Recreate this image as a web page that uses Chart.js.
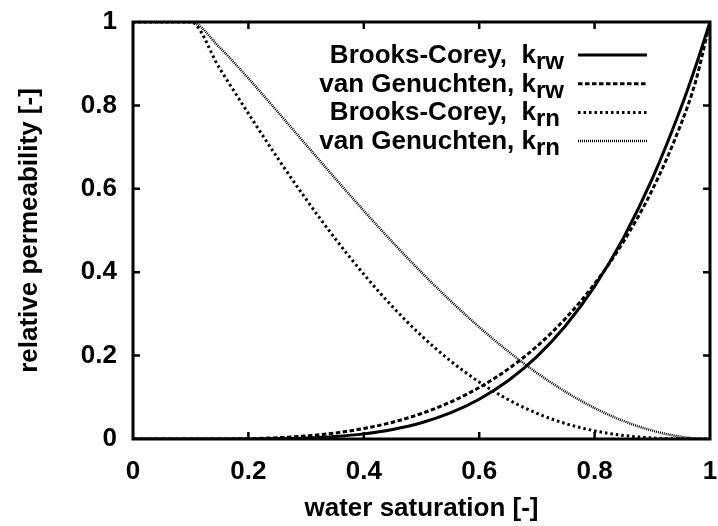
<!DOCTYPE html>
<html>
<head>
<meta charset="utf-8">
<script src="https://cdn.jsdelivr.net/npm/chart.js@4"></script>
<style>
  html, body { margin: 0; padding: 0; background: #fff; }
  canvas { display: block; }
</style>
</head>
<body>
<canvas id="chart" width="718" height="526"></canvas>
<script>
// water saturation samples (x)
const saturation = [0, 0.05, 0.1, 0.15, 0.2, 0.25, 0.3, 0.35, 0.4, 0.45, 0.5,
  0.55, 0.6, 0.65, 0.7, 0.75, 0.8, 0.85, 0.9, 0.95, 0.975, 1];

// relative permeabilities
const bcKrw = [0, 0, 0, 0, 0.0002, 0.0008, 0.0024, 0.006, 0.0123, 0.0229, 0.039,
  0.0625, 0.0953, 0.1395, 0.1975, 0.2721, 0.366, 0.4823, 0.6243, 0.7955, 0.8934, 1];
const vgKrw = [0, 0, 0, 0.0001, 0.0009, 0.003, 0.0073, 0.0143, 0.0251, 0.0403, 0.0611,
  0.0884, 0.1235, 0.1676, 0.2223, 0.2898, 0.3723, 0.4731, 0.5975, 0.7563, 0.857, 1];
const bcKrn = [1, 1, 1, 0.8892, 0.7804, 0.6751, 0.575, 0.4813, 0.3951, 0.317, 0.2477,
  0.1875, 0.1366, 0.0947, 0.0617, 0.0369, 0.0195, 0.0085, 0.0026, 0.0003, 0.0001, 0];
const vgKrn = [1, 1, 1, 0.9391, 0.8648, 0.7858, 0.7055, 0.6256, 0.5474, 0.4718, 0.3996,
  0.3317, 0.2683, 0.2105, 0.1585, 0.113, 0.0743, 0.0432, 0.02, 0.0053, 0.0014, 0];

const xTicks = [0, 0.2, 0.4, 0.6, 0.8, 1];
const xTickLabels = ['0', '0.2', '0.4', '0.6', '0.8', '1'];
const yTicks = [0, 0.2, 0.4, 0.6, 0.8, 1];
const yTickLabels = ['0', '0.2', '0.4', '0.6', '0.8', '1'];

const legendMain = ['Brooks-Corey,  k', 'van Genuchten, k', 'Brooks-Corey,  k', 'van Genuchten, k'];
const legendSub = ['rw', 'rw', 'rn', 'rn'];

const FONT = '"Liberation Sans", Arial, Helvetica, sans-serif';
Chart.defaults.font.family = FONT;
Chart.defaults.color = '#000';

const lineStyles = [
  { width: 3, dash: [], color: '#000' },
  { width: 3, dash: [4.5, 2.5], color: '#000' },
  { width: 3, dash: [2.5, 3], color: '#000' },
  { width: 2.5, dash: [1, 1], color: '#000' }
];

const toPoints = ys => saturation.map((x, i) => ({ x: x, y: ys[i] }));
const labelFor = (ticks, labels) => v => {
  const i = ticks.findIndex(t => Math.abs(t - v) < 1e-6);
  return i < 0 ? '' : labels[i];
};

// frame with inward ticks on all four sides, plus the gnuplot-like key
const framePlugin = {
  id: 'frame',
  afterDatasetsDraw(chart) {
    const { ctx, chartArea: a, scales: { x, y } } = chart;
    ctx.save();
    ctx.strokeStyle = '#000';
    ctx.setLineDash([]);
    ctx.lineWidth = 3;
    ctx.strokeRect(a.left, a.top, a.right - a.left, a.bottom - a.top);

    ctx.lineWidth = 2.5;
    ctx.beginPath();
    xTicks.slice(1, -1).forEach(v => {
      const px = x.getPixelForValue(v);
      ctx.moveTo(px, a.bottom); ctx.lineTo(px, a.bottom - 7);
      ctx.moveTo(px, a.top); ctx.lineTo(px, a.top + 7);
    });
    yTicks.slice(1, -1).forEach(v => {
      const py = y.getPixelForValue(v);
      ctx.moveTo(a.left, py); ctx.lineTo(a.left + 7, py);
      ctx.moveTo(a.right, py); ctx.lineTo(a.right - 7, py);
    });
    ctx.stroke();

    // key
    const kEnd = 536;
    legendMain.forEach((label, i) => {
      const rowY = 55 + i * 28.7;
      ctx.fillStyle = '#000';
      ctx.textBaseline = 'alphabetic';
      ctx.textAlign = 'right';
      ctx.font = 'bold 26px ' + FONT;
      ctx.fillText(label, kEnd, rowY + 8);
      ctx.textAlign = 'left';
      ctx.font = 'bold 24px ' + FONT;
      ctx.fillText(legendSub[i], kEnd, rowY + 14);

      const st = lineStyles[i];
      ctx.strokeStyle = st.color;
      ctx.lineWidth = st.width;
      ctx.setLineDash(st.dash);
      ctx.beginPath();
      ctx.moveTo(578, rowY);
      ctx.lineTo(647, rowY);
      ctx.stroke();
    });
    ctx.restore();
  }
};

const series = [bcKrw, vgKrw, bcKrn, vgKrn];
const names = ['Brooks-Corey, krw', 'van Genuchten, krw', 'Brooks-Corey, krn', 'van Genuchten, krn'];

new Chart(document.getElementById('chart'), {
  type: 'line',
  data: {
    datasets: series.map((s, i) => ({
      label: names[i],
      data: toPoints(s),
      borderColor: lineStyles[i].color,
      borderWidth: lineStyles[i].width,
      borderDash: lineStyles[i].dash,
      pointRadius: 0,
      fill: false,
      cubicInterpolationMode: 'monotone',
      order: i
    }))
  },
  options: {
    responsive: false,
    animation: false,
    layout: { padding: { left: 0, top: 22, right: 8, bottom: 0 } },
    plugins: { legend: { display: false }, tooltip: { enabled: false } },
    scales: {
      x: {
        type: 'linear', min: 0, max: 1,
        afterFit(s) { s.height = 87; s.paddingLeft = 0; s.paddingRight = 0; },
        grid: { display: false, drawTicks: false },
        border: { display: false },
        ticks: {
          stepSize: 0.2, padding: 17, maxRotation: 0,
          font: { size: 26, weight: 'bold' },
          callback: labelFor(xTicks, xTickLabels)
        },
        title: {
          display: true, text: 'water saturation [-]',
          font: { size: 26, weight: 'bold' },
          padding: { top: 0, bottom: 2 }
        }
      },
      y: {
        type: 'linear', min: 0, max: 1,
        afterFit(s) { s.width = 133; s.paddingTop = 0; s.paddingBottom = 0; },
        grid: { display: false, drawTicks: false },
        border: { display: false },
        ticks: {
          stepSize: 0.2, padding: 16,
          font: { size: 26, weight: 'bold' },
          callback: labelFor(yTicks, yTickLabels)
        },
        title: {
          display: true, text: 'relative permeability [-]',
          font: { size: 26, weight: 'bold' },
          padding: { top: 14, bottom: 0 }
        }
      }
    }
  },
  plugins: [framePlugin]
});
</script>
</body>
</html>
